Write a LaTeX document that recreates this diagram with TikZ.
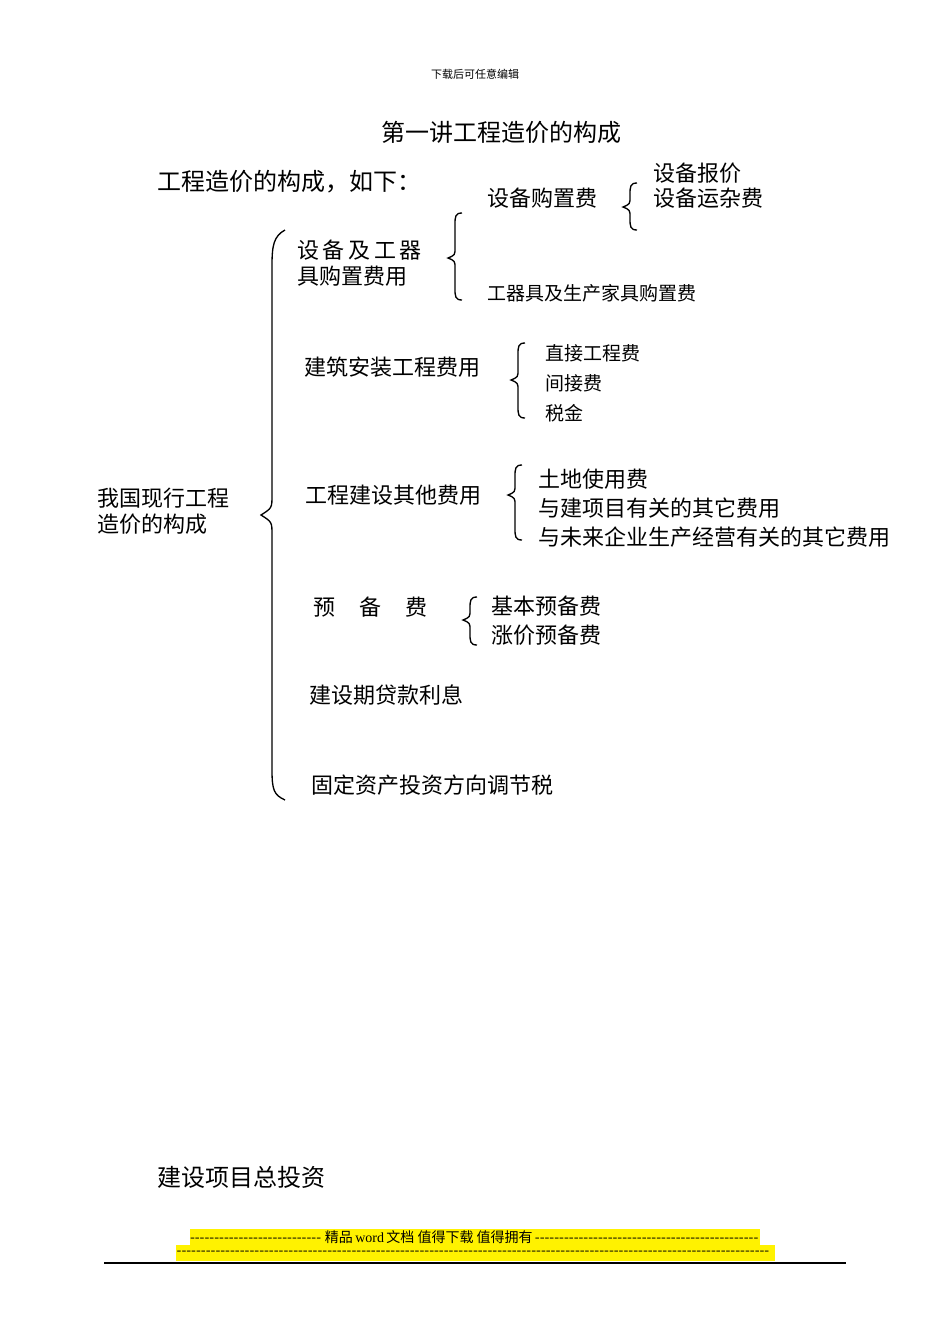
\documentclass[tikz,border=0pt]{standalone}
\usepackage{fontspec}
\setmainfont{Noto Sans CJK SC}
\newfontfamily\serifl{Liberation Serif}
\newcommand\px[1]{\fontsize{\the\dimexpr #1pt*6/10\relax}{\the\dimexpr #1pt*7/10\relax}\selectfont}
\newcommand\cbr[5][7]{% x, top, tip, bottom
\draw[line width=0.8pt] (#2+#1,#3) .. controls (#2,#3) and (#2,#3+4) .. (#2,#3+12) -- (#2,#4-10) .. controls (#2,#4-3) .. (#2-7,#4) .. controls (#2,#4+3) .. (#2,#4+10) -- (#2,#5-12) .. controls (#2,#5-4) and (#2,#5) .. (#2+#1,#5);}
\begin{document}
\begin{tikzpicture}[x=0.6pt,y=-0.6pt,t/.style={anchor=west,inner sep=0pt},
 m/.style={t,font=\px{22}},s/.style={t,font=\px{19}}]
\useasboundingbox (0,0) rectangle (950,1344);
\node[font=\px{11}] (hd) at (475,74) {下载后可任意编辑};
\node[font=\px{24}] (ti) at (501,132) {第一讲工程造价的构成};
\node[t,font=\px{24}] (in) at (157,182) {工程造价的构成，如下：};
\node[m,align=left] (root) at (97,511) {我国现行工程\\造价的构成};
\draw[line width=0.8pt] (285,230) .. controls (274,236) and (272,245) .. (272,265) -- (272,495) .. controls (272,508) .. (261,515) .. controls (272,522) .. (272,535) -- (272,770) .. controls (272,790) and (274,795) .. (285,800);
\cbr{455}{213}{258}{300}
\node[m,align=left] (a) at (297,263) {设\,备\,及\,工\,器\\具购置费用};
\node[m] (a1) at (487,198) {设备购置费};
\cbr{630}{183}{207}{230}
\node[m] (a11) at (653,173) {设备报价};
\node[m] (a12) at (653,198) {设备运杂费};
\node[s] (a2) at (487,293) {工器具及生产家具购置费};
\node[m] (b) at (304,367) {建筑安装工程费用};
\cbr{518}{343}{380}{418}
\node[s] (b1) at (545,353) {直接工程费};
\node[s] (b2) at (545,383) {间接费};
\node[s] (b3) at (545,413) {税金};
\node[m] (c) at (305,495) {工程建设其他费用};
\cbr{515}{465}{495}{540}
\node[m] (c1) at (538,479) {土地使用费};
\node[m] (c2) at (538,508) {与建项目有关的其它费用};
\node[m] (c3) at (538,537) {与未来企业生产经营有关的其它费用};
\node[m] (d) at (313,607) {预\hspace{1.1em}备\hspace{1.1em}费};
\cbr{470}{597}{620}{645}
\node[m] (d1) at (491,606) {基本预备费};
\node[m] (d2) at (491,635) {涨价预备费};
\node[m] (e) at (309,695) {建设期贷款利息};
\node[m] (f) at (311,785) {固定资产投资方向调节税};
\node[t,font=\px{24}] (g) at (157,1177) {建设项目总投资};
\fill[yellow] (190,1229) rectangle (760,1245);
\fill[yellow] (176,1245) rectangle (775,1261);
\node[inner sep=0pt,font=\px{14}] (f1) at (475,1237) {\makebox[342pt]{\makebox[81pt]{\leaders\hbox{-}\hfill}精品{\serifl\,word\,}文档 值得下载 值得拥有\leaders\hbox{-}\hfill}};
\node[inner sep=0pt,font=\px{14}] (f2) at (475,1253) {\makebox[358pt]{\leaders\hbox{-}\hfill}};
\draw[line width=0.7pt] (104,1263) -- (846,1263);
\end{tikzpicture}
\end{document}
